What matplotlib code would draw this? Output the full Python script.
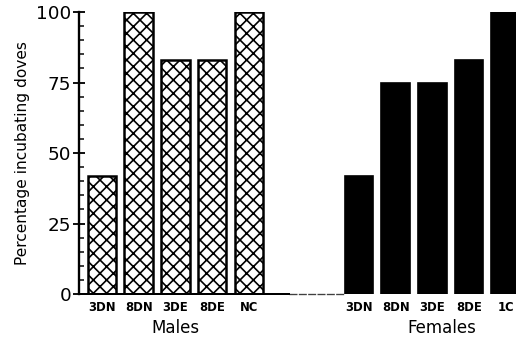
import matplotlib
matplotlib.use('Agg')
import matplotlib.pyplot as plt
import matplotlib.transforms as mtransforms
from matplotlib.ticker import MultipleLocator

# values
male_labels = ['3DN', '8DN', '3DE', '8DE', 'NC']
male_values = [42, 100, 83, 83, 100]
female_labels = ['3DN', '8DN', '3DE', '8DE', '1C']
female_values = [42, 75, 75, 83, 100]
yticks = [0, 25, 50, 75, 100]

male_x = list(range(len(male_labels)))
female_x = [7 + i for i in range(len(female_labels))]

plt.rcParams['font.family'] = 'DejaVu Sans'
plt.rcParams['hatch.linewidth'] = 1.0

fig = plt.figure(figsize=(4.3, 2.875), dpi=120)
ax = fig.add_axes([0.1531, 0.1478, 0.8469, 0.8174])

ax.bar(male_x, male_values, width=0.78, color='white', edgecolor='black',
       hatch='xxx', linewidth=1.5)
ax.bar(female_x, female_values, width=0.78, color='black', edgecolor='black',
       linewidth=1.0)

ax.set_xlim(-0.627, 11.28)
ax.set_ylim(0, 100)

for s in ['top', 'right']:
    ax.spines[s].set_visible(False)
ax.spines['left'].set_linewidth(1.4)
ax.spines['bottom'].set_linewidth(1.2)
ax.spines['bottom'].set_bounds(-0.627, 5.1)
# faint continuation of the baseline under the gap
ax.plot([5.1, 6.62], [0, 0], color='0.25', lw=0.8, ls=(0, (6, 1)),
        clip_on=False)

ax.set_yticks(yticks)
ax.yaxis.set_minor_locator(MultipleLocator(5))
ax.tick_params(axis='y', which='major', direction='inout', length=7,
               width=1.1, labelsize=11, pad=1)
ax.tick_params(axis='y', which='minor', direction='in', length=3, width=0.9)

ax.set_xticks(male_x + female_x)
ax.set_xticklabels(male_labels + female_labels, fontsize=7, fontweight='bold')
ax.tick_params(axis='x', length=0, pad=4)

ax.set_ylabel('Percentage incubating doves', fontsize=9.2, labelpad=4)

trans = mtransforms.blended_transform_factory(ax.transData, fig.transFigure)
ax.text(2.0, 0.05, 'Males', transform=trans, ha='center', va='center',
        fontsize=10)
ax.text(9.25, 0.05, 'Females', transform=trans, ha='center', va='center',
        fontsize=10)

fig.savefig('out.png', dpi=120)
